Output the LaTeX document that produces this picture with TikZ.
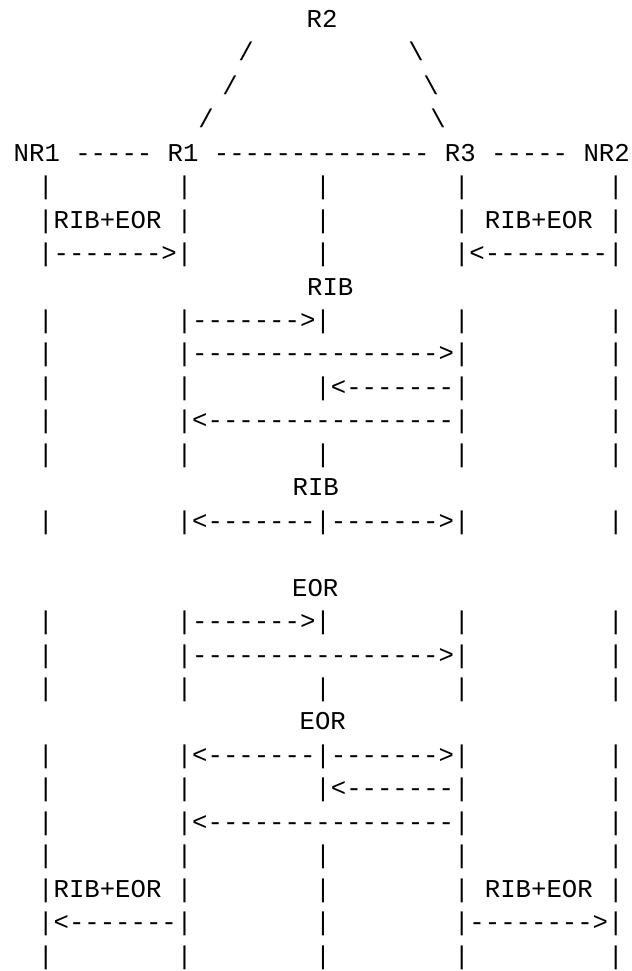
\documentclass[tikz,border=0pt]{standalone}
\usepackage{fontspec}
\setmonofont{Liberation Mono}

\begin{document}
\begin{tikzpicture}[
    x=1pt,
    y=-33.45pt,
    ascii/.style={
        font=\ttfamily\fontsize{25.67}{30}\selectfont,
        inner sep=0pt,
        anchor=base west,
        yshift=5.95pt
    },
    linkchar/.style={
        ascii,
        anchor=base
    }
]

    % Page
    \fill[white] (0,0) rectangle (632,29.03);
    \useasboundingbox (0,0) rectangle (632,29.03);

    % Routers
    \node[ascii] (topR2) at (306.5,1) {R2};
    \node[linkchar] (lnkLa) at (246,2) {/};
    \node[linkchar] (lnkRa) at (416,2) {\textbackslash};
    \node[linkchar] (lnkLb) at (230,3) {/};
    \node[linkchar] (lnkRb) at (431,3) {\textbackslash};
    \node[linkchar] (lnkLc) at (206,4) {/};
    \node[linkchar] (lnkRc) at (438,4) {\textbackslash};
    \node[ascii] (routers) at (13.5,5) {NR1~-----~R1~--------------~R3~-----~NR2};

    % Time lines, NR1 and NR2 send RIB+EOR
    \node[ascii] (row6) at (38,6) {|~~~~~~~~|~~~~~~~~|~~~~~~~~|~~~~~~~~~|};
    \node[ascii] (row7) at (38,7) {|RIB+EOR~|~~~~~~~~|~~~~~~~~|~RIB+EOR~|};
    \node[ascii] (row8) at (38,8) {|------->|~~~~~~~~|~~~~~~~~|<--------|};

    % RIB exchange
    \node[ascii] (ribA) at (307,9) {RIB};
    \node[ascii] (row10) at (38,10) {|~~~~~~~~|------->|~~~~~~~~|~~~~~~~~~|};
    \node[ascii] (row11) at (38,11) {|~~~~~~~~|---------------->|~~~~~~~~~|};
    \node[ascii] (row12) at (38,12) {|~~~~~~~~|~~~~~~~~|<-------|~~~~~~~~~|};
    \node[ascii] (row13) at (38,13) {|~~~~~~~~|<----------------|~~~~~~~~~|};
    \node[ascii] (row14) at (38,14) {|~~~~~~~~|~~~~~~~~|~~~~~~~~|~~~~~~~~~|};
    \node[ascii] (ribB) at (292.5,15) {RIB};
    \node[ascii] (row16) at (38,16) {|~~~~~~~~|<-------|------->|~~~~~~~~~|};

    % EOR exchange
    \node[ascii] (eorA) at (292,18) {EOR};
    \node[ascii] (row19) at (38,19) {|~~~~~~~~|------->|~~~~~~~~|~~~~~~~~~|};
    \node[ascii] (row20) at (38,20) {|~~~~~~~~|---------------->|~~~~~~~~~|};
    \node[ascii] (row21) at (38,21) {|~~~~~~~~|~~~~~~~~|~~~~~~~~|~~~~~~~~~|};
    \node[ascii] (eorB) at (299.5,22) {EOR};
    \node[ascii] (row23) at (38,23) {|~~~~~~~~|<-------|------->|~~~~~~~~~|};
    \node[ascii] (row24) at (38,24) {|~~~~~~~~|~~~~~~~~|<-------|~~~~~~~~~|};
    \node[ascii] (row25) at (38,25) {|~~~~~~~~|<----------------|~~~~~~~~~|};
    \node[ascii] (row26) at (38,26) {|~~~~~~~~|~~~~~~~~|~~~~~~~~|~~~~~~~~~|};

    % R1 and R3 send RIB+EOR back
    \node[ascii] (row27) at (38,27) {|RIB+EOR~|~~~~~~~~|~~~~~~~~|~RIB+EOR~|};
    \node[ascii] (row28) at (38,28) {|<-------|~~~~~~~~|~~~~~~~~|-------->|};
    \node[ascii] (row29) at (38,29) {|~~~~~~~~|~~~~~~~~|~~~~~~~~|~~~~~~~~~|};

\end{tikzpicture}
\end{document}
